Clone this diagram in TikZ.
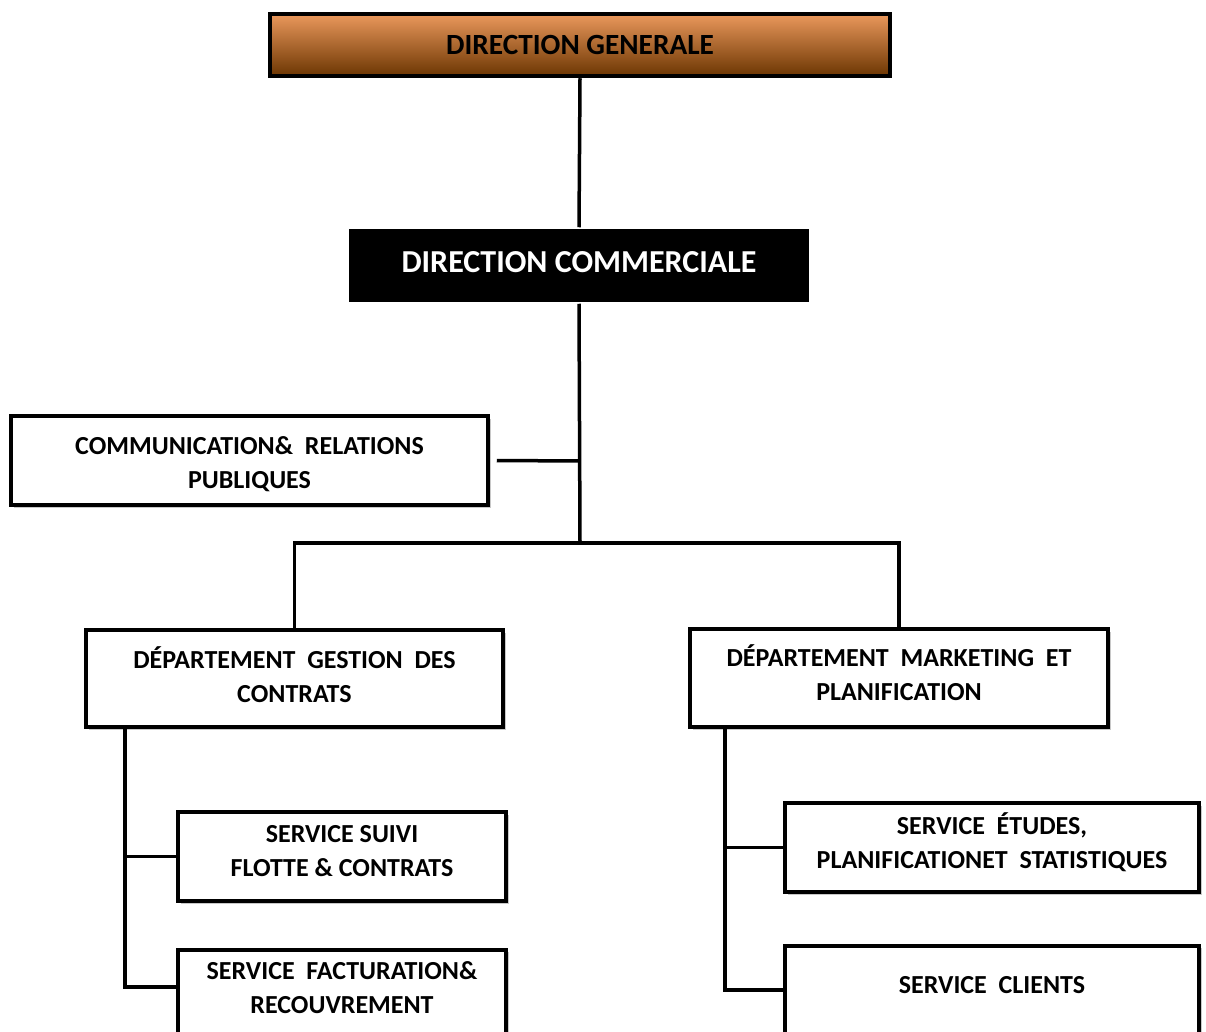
\documentclass[tikz,border=0pt]{standalone}
\usepackage{fontspec}
\setmainfont{Carlito}
\usetikzlibrary{shadows}
\definecolor{brownTop}{RGB}{234,152,92}
\definecolor{brownBot}{RGB}{108,54,2}
\begin{document}
\begin{tikzpicture}[x=1pt,y=-1pt,
  base/.style={inner sep=0pt, align=center, line width=3.5pt, line join=miter},
  box/.style={base, draw=black, fill=white,
    drop shadow={shadow xshift=2.5pt, shadow yshift=-2.5pt, fill=black!30, opacity=0.7}},
  boxtext/.style={inner sep=0pt, align=center, font=\bfseries\fontsize{26}{34}\selectfont},
  link/.style={line width=3.5pt, line join=miter}
]
\clip (0,0) rectangle (1206,1032);
\fill[white] (0,0) rectangle (1206,1032);

% management levels
\node[base, draw=black, line width=4.5pt, top color=brownTop, bottom color=brownBot,
      minimum width=620, minimum height=62,
      font=\bfseries\fontsize{29.3}{34}\selectfont,
      drop shadow={shadow xshift=2pt, shadow yshift=-2pt, fill=black!30, opacity=0.6}]
  (dg) at (580,45) {DIRECTION GENERALE};
\node[base, fill=black, minimum width=460, minimum height=73] (dc) at (579,265.5) {};
\node[boxtext, text=white, font=\bfseries\fontsize{32}{34}\selectfont]
  (dct) at ([yshift=3pt]dc.center) {DIRECTION COMMERCIALE};

% staff unit
\node[box, minimum width=477, minimum height=89] (com) at (249.5,460.5) {};
\node[boxtext] (comt) at ([yshift=-3.5pt]com.center) {COMMUNICATION\&\ \ RELATIONS\\PUBLIQUES};

% departments
\node[box, minimum width=417, minimum height=97] (dgc) at (294.5,678.5) {};
\node[boxtext] (dgct) at ([yshift=4pt]dgc.center) {DÉPARTEMENT\ \ GESTION\ \ DES\\CONTRATS};
\node[box, minimum width=418, minimum height=98] (dmp) at (899,678) {};
\node[boxtext] (dmpt) at ([yshift=5pt]dmp.center) {DÉPARTEMENT\ \ MARKETING\ \ ET\\PLANIFICATION};

% services
\node[box, minimum width=328, minimum height=89] (ssf) at (342,856.5) {};
\node[boxtext] (ssft) at ([yshift=5pt]ssf.center) {SERVICE SUIVI\\FLOTTE \& CONTRATS};
\node[box, anchor=north, minimum width=328, minimum height=130] (sfr) at (342,948) {};
\node[boxtext] (sfrt) at ([yshift=-40pt]sfr.north) {SERVICE\ \ FACTURATION\&\\RECOUVREMENT};
\node[box, minimum width=414, minimum height=89] (ses) at (992,847.5) {};
\node[boxtext] (sest) at ([yshift=5pt]ses.center) {SERVICE\ \ ÉTUDES,\\PLANIFICATIONET\ \ STATISTIQUES};
\node[box, anchor=north, minimum width=414, minimum height=130] (scl) at (992,944) {};
\node[boxtext] (sclt) at ([yshift=-41pt]scl.north) {SERVICE\ \ CLIENTS};

% connector junctions
\coordinate (trunk) at (580,543);
\coordinate (comj) at (580,461);
\coordinate (lt) at (125,727);
\coordinate (rt) at (725,727);

% connectors
\draw[link] (dg.south) -- (dc.north);
\draw[link] (dc.south) -- (trunk);
\draw[link] ([xshift=7pt]com.east) -- (comj);
\draw[link] (trunk) -| (dgc.north);
\draw[link] (trunk) -| (dmp.north);
\draw[link] (lt) |- (ssf.west);
\draw[link] (lt) |- ([yshift=-39pt]sfr.north west);
\draw[link] (rt) |- (ses.west);
\draw[link] (rt) |- ([yshift=-46pt]scl.north west);
\end{tikzpicture}
\end{document}
